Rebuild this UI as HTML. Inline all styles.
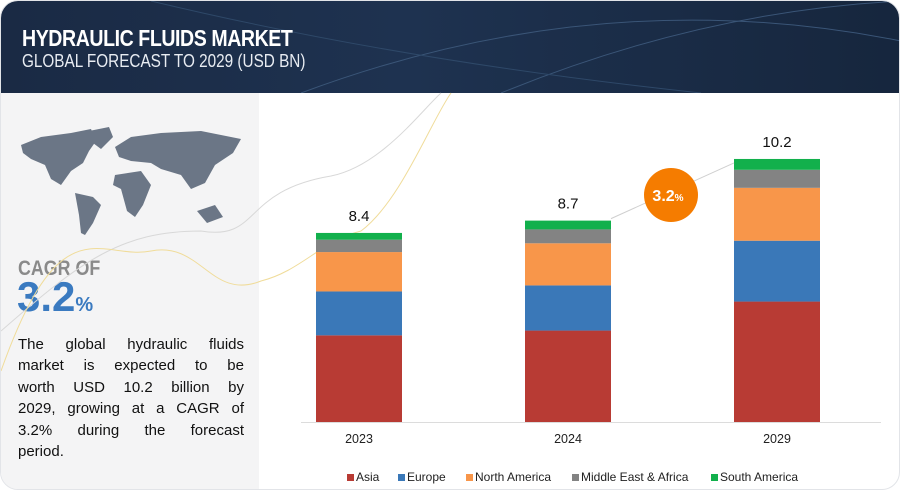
<!DOCTYPE html>
<html><head><meta charset="utf-8"><style>
body{margin:0;width:900px;height:491px;overflow:hidden;background:#fff;font-family:"Liberation Sans",sans-serif}
#wrap{position:absolute;left:0;top:0;width:898px;height:488px;border:1px solid #e2e4e8;border-radius:18px;overflow:hidden;background:#fff}
#hdr{position:absolute;left:0;top:0;width:900px;height:92px;background:linear-gradient(90deg,#1a2a44 0%,#1e3250 45%,#16263d 100%)}
#left{position:absolute;left:0;top:92px;width:258px;height:400px;background:#f4f4f5}
.t1{position:absolute;left:21px;top:24px;color:#fff;font-weight:bold;font-size:23px;letter-spacing:-0.5px;transform:scaleX(0.85);transform-origin:left}
.t2{position:absolute;left:21px;top:50px;color:#e8ecf2;font-size:18px;transform:scaleX(0.85);transform-origin:left}
.cg{position:absolute;left:17px;top:164px;color:#8a8a8a;font-size:21px;font-weight:bold;transform:scaleX(0.85);transform-origin:left}
.cv{position:absolute;left:16px;top:180px;color:#3a7ac0;font-size:42px;font-weight:bold}
.cv span{font-size:20px}
.desc{position:absolute;left:17px;top:241px;width:226px;font-size:15px;line-height:21.4px;color:#111}
.desc div{text-align:justify;text-align-last:justify;white-space:nowrap}
.desc div.l{text-align-last:left}
</style></head><body>
<div id="wrap">
<div id="hdr">
<svg width="900" height="92" style="position:absolute;left:0;top:0"><path d="M300 92 Q600 -20 900 40" stroke="#3a5577" fill="none" stroke-width="1"/><path d="M500 92 Q700 10 900 0" stroke="#3a5577" fill="none"/><path d="M150 0 Q400 60 700 92" stroke="#2e4868" fill="none"/></svg>
<div class="t1">HYDRAULIC FLUIDS MARKET</div>
<div class="t2">GLOBAL FORECAST TO 2029 (USD BN)</div>
</div>
<div id="left">
<svg width="258" height="160" style="position:absolute;left:0;top:0">
<g fill="#6b7686">
<path d="M20 52 L40 44 L70 40 L90 36 L95 48 L88 58 L82 70 L70 78 L60 92 L50 86 L44 72 L30 66 L22 60 Z"/>
<path d="M88 38 L108 34 L112 44 L100 56 L92 50 Z"/>
<path d="M74 100 L92 104 L100 112 L92 130 L84 142 L80 140 L78 122 Z"/>
<path d="M114 54 L130 44 L160 40 L200 38 L240 46 L232 60 L214 72 L204 90 L190 96 L180 82 L160 76 L150 70 L130 68 L118 64 Z"/>
<path d="M114 82 L140 78 L150 92 L142 112 L134 124 L126 118 L120 96 L112 92 Z"/>
<path d="M196 118 L214 112 L222 124 L206 130 Z"/>
</g></svg>
<div class="cg">CAGR OF</div>
<div class="cv">3.2<span>%</span></div>
<div class="desc"><div>The global hydraulic fluids</div><div>market is expected to be</div><div>worth USD 10.2 billion by</div><div>2029, growing at a CAGR of</div><div>3.2% during the forecast</div><div class="l">period.</div></div>
</div>
<svg id="chart" width="900" height="491" style="position:absolute;left:0;top:0"></svg>
</div>
<script>
const years=["2023","2024","2029"];
const totals=[8.4,8.7,10.2];
const asia=[3.85,3.95,4.67];
const europe=[1.95,1.95,2.36];
const northAmerica=[1.75,1.82,2.05];
const mea=[0.55,0.6,0.7];
const southAmerica=[0.3,0.38,0.42];
const seriesNames=["Asia","Europe","North America","Middle East & Africa","South America"];
const colors=["#b83b34","#3a78b8","#f8964a","#838383","#12b04c"];
const series=[asia,europe,northAmerica,mea,southAmerica];
const ns="http://www.w3.org/2000/svg";
const svg=document.getElementById('chart');
const base=421, bw=86;
function xc(i){return 358+i*209;}
function hScale(v){return (v-3.8)*41.1;}
function mk(t,a){const e=document.createElementNS(ns,t);for(const k in a)e.setAttribute(k,a[k]);svg.appendChild(e);return e;}
let c1=mk('path',{d:"M0 330 C80 260 120 230 200 230 C260 240 240 190 330 175 C380 165 420 110 440 92",stroke:"#d8d8d8",fill:"none","stroke-width":1});

let c2=mk('path',{d:"M0 370 C60 200 100 260 150 250 C200 240 210 300 260 280 C300 270 320 240 360 230 C400 200 430 120 450 92",stroke:"#f0dc9a",fill:"none","stroke-width":1});

let ax=mk('line',{x1:300,y1:base+0.5,x2:880,y2:base+0.5,stroke:"#dcdcdc"});

years.forEach((y,i)=>{
  let tot=series.reduce((s,a)=>s+a[i],0);
  let H=hScale(totals[i]);let acc=0;
  series.forEach((a,k)=>{
    let h=a[i]/tot*H;
    let r=mk('rect',{x:xc(i)-bw/2,y:base-acc-h,width:bw,height:h,fill:colors[k]});
    
    
    acc+=h;
  });
  let v=mk('text',{x:xc(i),y:base-H-12,"text-anchor":"middle","font-size":15,fill:"#111","font-family":"Liberation Sans, sans-serif"});
  v.textContent=totals[i];
  
  let t=mk('text',{x:xc(i),y:442,"text-anchor":"middle","font-size":12.5,fill:"#222","font-family":"Liberation Sans, sans-serif"});
  t.textContent=y;
  
});
let gl=mk('line',{x1:xc(1)+bw/2,y1:base-hScale(totals[1])-2,x2:xc(2)-bw/2,y2:base-hScale(totals[2])+4,stroke:"#cfcfcf"});

let cc=mk('circle',{cx:670,cy:194,r:27,fill:"#f57c00"});

let ct=mk('text',{x:667,y:200,"text-anchor":"middle","font-size":16,"font-weight":"bold",fill:"#fff","font-family":"Liberation Sans, sans-serif"});
ct.innerHTML='3.2<tspan font-size="10">%</tspan>';

const lx=[346,397,465,571,710];
seriesNames.forEach((n,k)=>{
  let r=mk('rect',{x:lx[k],y:473,width:7,height:7,fill:colors[k]});
  
  let t=mk('text',{x:lx[k]+9,y:480,"font-size":12,fill:"#222","font-family":"Liberation Sans, sans-serif"});
  t.textContent=n;
  
});
</script>
</body></html>
